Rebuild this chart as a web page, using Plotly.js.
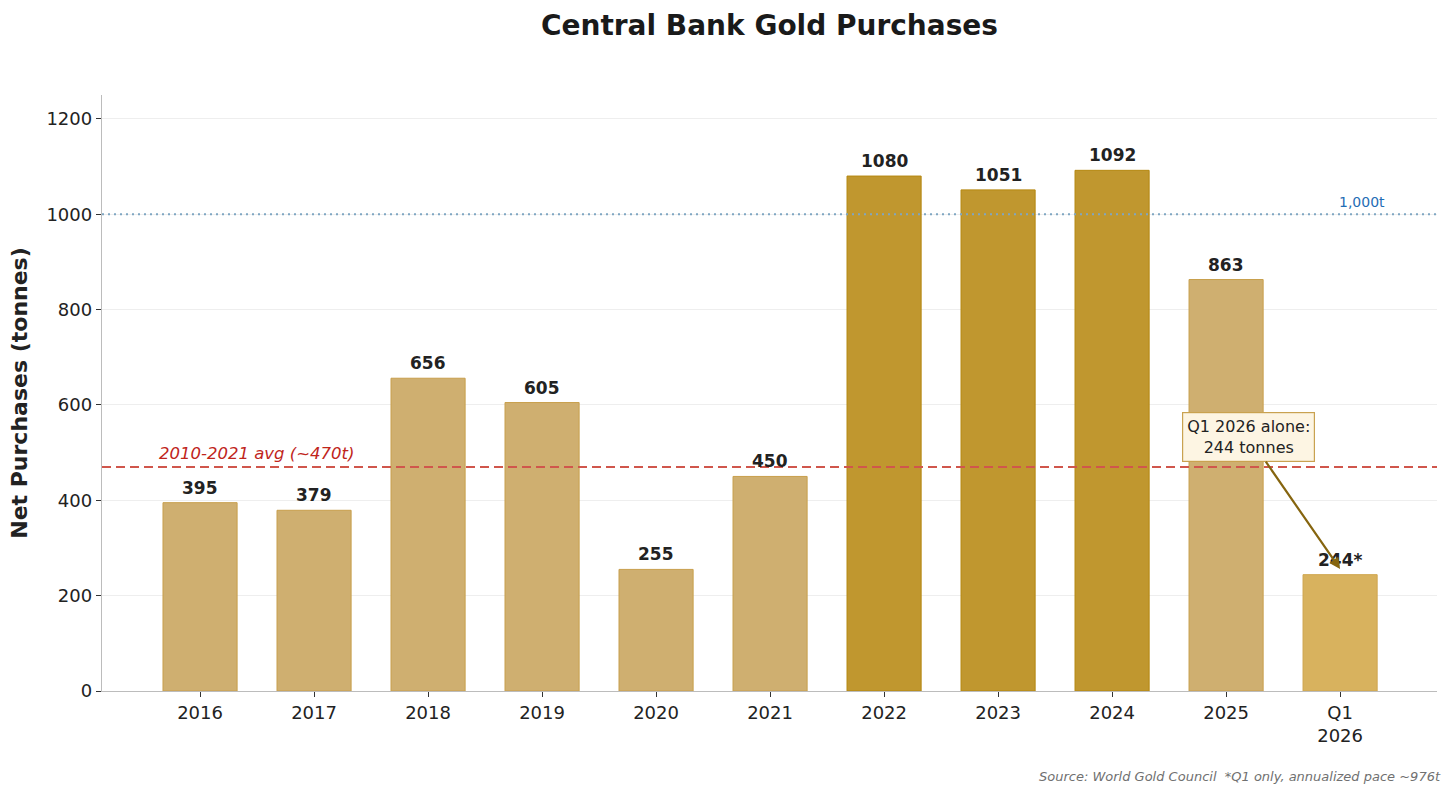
<!DOCTYPE html>
<html>
<head>
<meta charset="utf-8">
<script src="https://cdn.plot.ly/plotly-3.0.1.min.js"></script>
<style>
  html, body { margin: 0; padding: 0; background: #ffffff; }
  #chart { width: 1456px; height: 796px; }
</style>
</head>
<body>
<div id="chart"></div>
<script>
// Net central bank gold purchases, tonnes per year
const periods = ['2016', '2017', '2018', '2019', '2020', '2021', '2022', '2023', '2024', '2025', 'Q1<br>2026'];
const tonnes = [395, 379, 656, 605, 255, 450, 1080, 1051, 1092, 863, 244];
const labelSuffix = ['', '', '', '', '', '', '', '', '', '', '*'];
const tier = ['base', 'base', 'base', 'base', 'base', 'base', 'peak', 'peak', 'peak', 'base', 'partial'];

const avgLevel = 470;
const avgLabel = '2010-2021 avg (~470t)';
const markLevel = 1000;
const markLabel = '1,000t';
const calloutText = 'Q1 2026 alone:<br>244 tonnes';
const sourceNote = 'Source: World Gold Council  *Q1 only, annualized pace ~976t';

const fillByTier = { base: '#cfaf70', peak: '#c0972f', partial: '#d8b25e' };
const edgeByTier = { base: '#c89f4c', peak: '#b5870f', partial: '#cfa64e' };

const FONT = 'DejaVu Sans, sans-serif';

const bars = {
  type: 'bar',
  x: periods,
  y: tonnes,
  width: 0.65,
  marker: {
    color: tier.map(t => fillByTier[t]),
    line: { color: tier.map(t => edgeByTier[t]), width: 1 }
  },
  hoverinfo: 'x+y',
  showlegend: false
};

// value labels above each bar (category positions given by index)
const valueLabels = periods.map((p, i) => ({
  x: i, y: tonnes[i], xref: 'x', yref: 'y',
  text: '<b>' + tonnes[i] + labelSuffix[i] + '</b>',
  showarrow: false, yanchor: 'bottom', yshift: 3,
  font: { family: FONT, size: 17, color: '#222222' }
}));

const lastIdx = periods.length - 1;

const annotations = valueLabels.concat([
  {
    x: -0.38, y: avgLevel, xref: 'x', yref: 'y',
    text: '<i>' + avgLabel + '</i>', showarrow: false,
    xanchor: 'left', yanchor: 'bottom', yshift: 2,
    font: { family: FONT, size: 16.5, color: '#c0251b' }
  },
  {
    x: 10.19, y: markLevel, xref: 'x', yref: 'y',
    text: markLabel, showarrow: false,
    xanchor: 'center', yanchor: 'bottom', yshift: 2,
    font: { family: FONT, size: 14, color: '#1f6db5' }
  },
  {
    x: lastIdx, y: tonnes[lastIdx] + 12, xref: 'x', yref: 'y',
    ax: 9.2, ay: 532, axref: 'x', ayref: 'y',
    text: calloutText, showarrow: true,
    arrowhead: 2, arrowsize: 1, arrowwidth: 2.2, arrowcolor: '#86650f',
    bgcolor: '#fdf5e3', bordercolor: '#c9a250', borderwidth: 1.2, borderpad: 4,
    font: { family: FONT, size: 16, color: '#222222' }
  },
  {
    x: 1, y: 0, xref: 'paper', yref: 'paper',
    xanchor: 'right', yanchor: 'top', yshift: -76, xshift: 6,
    text: '<i>' + sourceNote + '</i>', showarrow: false,
    font: { family: FONT, size: 13, color: '#707070' }
  }
]);

const layout = {
  width: 1456, height: 796,
  paper_bgcolor: '#ffffff', plot_bgcolor: '#ffffff',
  margin: { l: 102, r: 19, t: 95, b: 105 },
  title: {
    text: '<b>Central Bank Gold Purchases</b>',
    x: 0.5, xref: 'paper', y: 0.968, yref: 'container', yanchor: 'middle',
    font: { family: FONT, size: 28, color: '#1a1a1a' }
  },
  font: { family: FONT, color: '#222222' },
  bargap: 0.35,
  xaxis: {
    type: 'category',
    range: [-0.86, 10.85],
    showgrid: false,
    showline: true, linecolor: '#bcbcbc', linewidth: 1.2,
    ticks: 'outside', ticklen: 5, tickcolor: '#333333',
    tickfont: { family: FONT, size: 18, color: '#222222' },
    zeroline: false
  },
  yaxis: {
    range: [0, 1250],
    tickvals: [0, 200, 400, 600, 800, 1000, 1200],
    showgrid: true, gridcolor: '#eeeeee', gridwidth: 1,
    showline: true, linecolor: '#bcbcbc', linewidth: 1.2,
    ticks: 'outside', ticklen: 5, tickcolor: '#333333',
    tickfont: { family: FONT, size: 18, color: '#222222' },
    zeroline: false,
    title: {
      text: '<b>Net Purchases (tonnes)</b>',
      font: { family: FONT, size: 22, color: '#222222' },
      standoff: 12
    }
  },
  shapes: [
    {
      type: 'line', xref: 'paper', yref: 'y', x0: 0, x1: 1, y0: avgLevel, y1: avgLevel,
      line: { color: '#d0564c', width: 2, dash: '9px,5px' }, layer: 'above'
    },
    {
      type: 'line', xref: 'paper', yref: 'y', x0: 0, x1: 1, y0: markLevel, y1: markLevel,
      line: { color: '#7fa6c2', width: 2, dash: '2px,4px' }, layer: 'above'
    }
  ],
  annotations: annotations
};

Plotly.newPlot('chart', [bars], layout, { displayModeBar: false, staticPlot: true });
</script>
</body>
</html>
